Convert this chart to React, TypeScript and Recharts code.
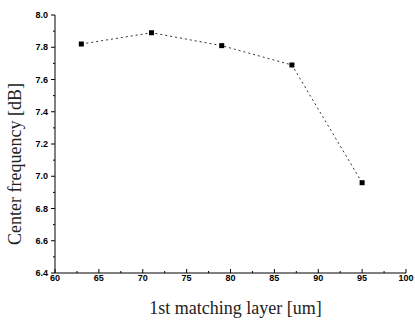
import { LineChart, Line, XAxis, YAxis } from "recharts";

// matching layer thickness (um) vs center frequency
const thickness = [63, 71, 79, 87, 95];
const centerFreq = [7.82, 7.89, 7.81, 7.69, 6.96];

const xTicks = [60, 62.5, 65, 67.5, 70, 72.5, 75, 77.5, 80, 82.5, 85, 87.5, 90, 92.5, 95, 97.5, 100];
const yTicks = [6.4, 6.5, 6.6, 6.7, 6.8, 6.9, 7.0, 7.1, 7.2, 7.3, 7.4, 7.5, 7.6, 7.7, 7.8, 7.9, 8.0];

const data = thickness.map((t, i) => ({ t, f: centerFreq[i] }));

const tickFont = { fontFamily: "Liberation Sans, Arial, sans-serif", fontSize: 9, fontWeight: 700 };

function XTick(props: any) {
    const { x, y, payload } = props;
    const major = payload.value % 5 === 0;
    return (
        <g>
            <line x1={x} y1={y} x2={x} y2={y - (major ? 4 : 2)} stroke="#000" />
            {major && (
                <text x={x} y={y + 5} textAnchor="middle" dominantBaseline="central" fill="#000" style={tickFont}>
                    {payload.value}
                </text>
            )}
        </g>
    );
}

function YTick(props: any) {
    const { x, y, payload } = props;
    const major = Math.round(payload.value * 10) % 2 === 0;
    return (
        <g>
            <line x1={x} y1={y} x2={x - (major ? 4 : 2)} y2={y} stroke="#000" />
            {major && (
                <text x={x - 7} y={y} textAnchor="end" dominantBaseline="central" fill="#000" style={tickFont}>
                    {payload.value.toFixed(1)}
                </text>
            )}
        </g>
    );
}

function SquareDot(props: any) {
    const { cx, cy, index } = props;
    return <rect key={`d-${index}`} x={cx - 2.5} y={cy - 2.5} width={5} height={5} fill="#000" />;
}

export default function App() {
    return (
        <div style={{ position: "absolute", left: 0, top: 0, background: "#fff" }}>
            <LineChart width={415} height={322} data={data} margin={{ top: 15, right: 9, bottom: 0, left: 0 }}>
                <XAxis
                    dataKey="t"
                    type="number"
                    domain={[60, 100]}
                    ticks={xTicks}
                    interval={0}
                    height={49}
                    tickSize={0}
                    tickMargin={0}
                    tickLine={false}
                    stroke="#000"
                    tick={<XTick />}
                    label={{
                        value: "1st matching layer [um]",
                        position: "insideBottom",
                        offset: 8,
                        dx: 5,
                        style: { fontFamily: "Liberation Serif, serif", fontSize: 18, fill: "#222" },
                    }}
                />
                <YAxis
                    type="number"
                    domain={[6.4, 8.0]}
                    ticks={yTicks}
                    interval={0}
                    width={55}
                    tickSize={0}
                    tickMargin={0}
                    tickLine={false}
                    stroke="#000"
                    tick={<YTick />}
                    label={{
                        value: "Center frequency [dB]",
                        position: "center",
                        angle: -90,
                        dx: -13,
                        dy: 20,
                        style: { fontFamily: "Liberation Serif, serif", fontSize: 18, fill: "#222" },
                    }}
                />
                <Line
                    dataKey="f"
                    stroke="#333"
                    strokeWidth={1}
                    strokeDasharray="2 3"
                    dot={<SquareDot />}
                    isAnimationActive={false}
                />
            </LineChart>
        </div>
    );
}
